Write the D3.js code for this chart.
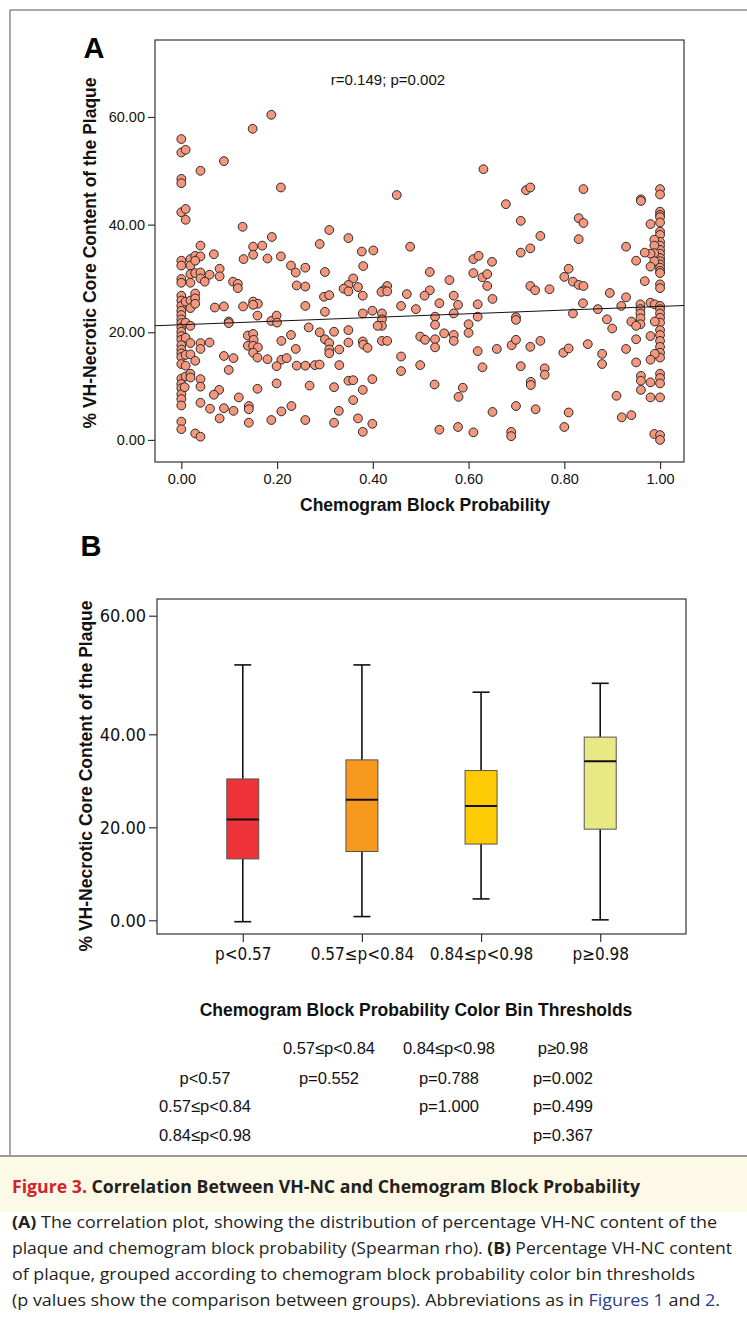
<!DOCTYPE html>
<html><head><meta charset="utf-8">
<script src="https://cdn.jsdelivr.net/npm/d3@7"></script>
<style>body{margin:0;background:#fff}svg{display:block}</style>
</head><body>
<script>
// ---------- DATA ----------
// Panel A: [chemogram block probability, % VH-NC]
const scatterPoints = [
[0.188,60.4],[0.149,57.8],[0.0,55.9],[0.0,53.4],[0.009,53.9],[0.089,51.8],[0.040,50.0],[0.0,48.5],[0.0,47.7],[0.208,46.9],[0.0,42.3],[0.009,42.9],[0.009,40.9],[0.128,39.6],[0.189,37.7],[0.040,36.1],[0.150,35.9],[0.169,36.1],[0.150,34.4],[0.068,34.5],[0.130,33.6],[0.180,33.7],[0.208,34.1],[0.229,32.4],[0.259,32.0],[0.239,31.1],[0.0,33.3],[0.0,32.4],[0.019,33.6],[0.019,32.4],[0.029,34.2],[0.040,34.1],[0.029,33.3],[0.019,30.8],[0.029,31.0],[0.040,31.1],[0.040,30.0],[0.059,30.7],[0.080,31.8],[0.080,30.4],[0.0,29.9],[0.0,29.2],[0.019,29.2],[0.049,29.4],[0.108,29.4],[0.118,29.0],[0.241,28.7],[0.259,28.5],[0.118,28.2],
[0,26.8],[0,25.9],[0,24.9],[0,24.0],[0,23.2],[0,22.4],[0,21.7],[0,20.9],[0,20.1],[0,19.3],[0,18.6],[0,17.6],[0,16.8],[0,16.1],[0,15.4],[0,14.1],[0,11.4],[0,10.4],[0,9.6],[0,8.5],[0,7.6],[0,6.4],[0,3.4],[0,2.0],
[0.009,25.7],[0.009,21.8],[0.009,19.0],[0.009,15.8],[0.009,13.8],[0.009,11.8],[0.007,9.8],
[0.019,25.9],[0.019,24.5],[0.029,27.2],[0.029,26.3],[0.029,25.3],[0.019,21.2],[0.019,18.0],[0.019,15.9],[0.029,14.7],[0.019,12.3],[0.019,11.6],
[0.040,18.0],[0.040,16.9],[0.059,18.1],[0.070,24.6],[0.089,24.8],[0.099,22.0],[0.099,21.7],[0.129,24.8],[0.150,25.7],[0.160,25.3],[0.150,25.1],[0.159,23.1],[0.188,22.1],[0.199,23.1],[0.200,21.8],
[0.139,19.4],[0.150,19.7],[0.151,18.6],[0.139,17.5],[0.150,17.5],[0.160,17.2],[0.150,16.2],[0.159,15.3],[0.180,15.0],[0.209,18.4],[0.229,19.5],[0.239,16.9],[0.209,14.9],[0.220,15.2],[0.199,13.7],[0.241,13.8],[0.259,13.8],[0.266,20.9],[0.259,24.9],
[0.089,15.6],[0.109,15.2],[0.099,13.0],[0.040,11.3],[0.040,9.9],[0.079,9.3],[0.068,8.4],[0.120,7.9],[0.159,9.5],[0.199,10.5],[0.040,6.9],[0.060,5.8],[0.089,5.9],[0.109,5.4],[0.141,6.3],[0.141,5.7],[0.230,6.3],[0.209,5.3],[0.080,4.0],[0.141,3.2],[0.188,3.7],[0.259,3.7],[0.029,1.2],[0.040,0.6],
[0.450,45.5],[0.309,39.0],[0.289,36.4],[0.349,37.5],[0.377,35.0],[0.401,35.2],[0.478,35.9],[0.300,31.2],[0.380,32.3],[0.359,30.0],[0.349,28.8],[0.339,28.1],[0.369,28.4],[0.430,28.6],[0.422,27.8],[0.519,31.2],[0.519,27.8],[0.560,29.7],
[0.349,27.6],[0.418,27.5],[0.430,27.6],[0.298,26.6],[0.309,26.9],[0.379,26.8],[0.471,27.1],[0.508,26.8],[0.569,26.8],[0.578,25.1],[0.539,25.4],[0.459,24.9],[0.490,24.3],[0.300,23.8],[0.379,23.5],[0.399,24.0],[0.419,23.5],[0.419,22.4],[0.419,21.2],[0.410,21.2],[0.530,22.9],[0.530,21.4],[0.569,23.5],
[0.289,20.0],[0.300,18.7],[0.309,18.0],[0.309,16.8],[0.309,16.1],[0.319,20.1],[0.330,16.8],[0.349,20.4],[0.349,18.1],[0.379,18.3],[0.380,17.7],[0.389,17.1],[0.419,18.4],[0.430,18.4],[0.499,19.2],[0.509,18.6],[0.530,18.7],[0.530,17.2],[0.549,19.8],[0.569,19.5],[0.569,18.4],
[0.279,13.9],[0.289,14.0],[0.330,13.9],[0.459,15.5],[0.459,12.8],[0.499,13.9],[0.268,10.1],[0.319,9.8],[0.349,11.0],[0.359,11.1],[0.399,11.3],[0.379,9.3],[0.359,7.4],[0.329,5.4],[0.529,10.3],[0.579,8.0],[0.319,3.2],[0.369,4.0],[0.379,1.5],[0.399,3.0],[0.539,1.9],[0.578,2.4],
[0.631,50.3],[0.720,46.4],[0.729,46.9],[0.840,46.6],[0.678,43.8],[0.709,40.7],[0.830,41.2],[0.840,40.3],[0.750,37.9],[0.830,37.3],[0.709,34.8],[0.729,35.6],[0.610,33.6],[0.621,34.2],[0.649,33.1],[0.610,31.0],[0.629,30.2],[0.639,30.8],[0.639,28.6],[0.809,31.8],[0.800,30.3],[0.818,29.4],[0.830,28.8],[0.840,28.6],[0.729,28.6],[0.739,27.8],[0.769,28.0],
[0.619,25.2],[0.650,26.2],[0.895,27.3],[0.839,25.4],[0.619,22.9],[0.600,21.5],[0.600,19.9],[0.699,22.8],[0.699,22.3],[0.818,23.5],[0.870,24.3],[0.889,22.4],[0.619,16.5],[0.659,16.9],[0.690,17.6],[0.699,18.6],[0.729,17.3],[0.750,18.4],[0.798,16.2],[0.809,17.0],[0.849,17.8],[0.879,16.0],[0.879,14.1],[0.629,13.5],[0.709,13.7],[0.759,13.3],[0.759,12.1],[0.730,10.8],[0.730,10.2],[0.588,9.7],[0.650,5.2],[0.699,6.3],[0.740,5.7],[0.809,5.1],[0.610,1.4],[0.689,1.5],[0.689,0.7],[0.800,2.4],
[1.0,46.6],[1.0,45.6],[0.960,44.7],[0.960,44.4],[1.0,42.4],[1.0,41.8],[1.0,41.4],[0.980,40.1],[1.0,40.4],[1.0,38.7],[1.0,38.1],[1.0,36.8],[1.0,36.1],[1.0,35.3],[1.0,34.6],[1.0,33.8],[1.0,33.2],[1.0,32.6],[1.0,32.0],[1.0,31.4],[1.0,31.0],[0.988,37.2],[0.988,36.1],[0.988,34.7],[0.980,34.6],[0.968,34.8],[0.929,35.9],[0.950,33.3],[0.988,33.2],[0.980,32.2],[0.968,29.5],[1.0,28.9],
[1.0,28.2],[0.929,26.5],[0.919,24.9],[0.959,25.2],[0.959,24.3],[0.959,23.5],[0.959,22.6],[0.959,21.5],[0.980,25.5],[0.989,25.2],[1.0,24.9],[1.0,24.3],[1.0,23.5],[1.0,22.7],[1.0,21.8],[1.0,20.4],[1.0,19.5],[1.0,18.4],[1.0,17.3],[1.0,16.2],[1.0,15.3],[0.989,22.0],[0.940,22.0],[0.950,21.2],[0.900,20.7],[0.950,18.7],[0.980,19.3],[0.989,16.0],[0.980,14.9],[0.950,14.4],[0.929,16.9],[0.960,11.9],[0.960,11.0],[0.960,9.3],[0.980,10.7],[1.0,12.3],[1.0,11.5],[1.0,10.5],[0.980,7.9],[1.0,7.9],[0.909,8.2],[0.920,4.2],[0.940,4.6],[0.988,1.1],[1.0,0.9],[1.0,0.0]
];
const fitIntercept = 21.4, fitSlope = 3.4;
const statText = "r=0.149; p=0.002";
const xTicksA = [0, 0.2, 0.4, 0.6, 0.8, 1.0];
const yTicksA = [0, 20, 40, 60];

// Panel B boxplots
const groups = ["p<0.57", "0.57≤p<0.84", "0.84≤p<0.98", "p≥0.98"];
const boxMin = [-0.3, 0.8, 4.6, 0.1];
const boxQ1 = [13.2, 14.8, 16.4, 19.6];
const boxMedian = [21.7, 25.9, 24.6, 34.2];
const boxQ3 = [30.4, 34.5, 32.2, 39.4];
const boxMax = [51.7, 51.7, 47.1, 48.6];
const boxColors = ["#ee3338", "#f7991f", "#ffcb05", "#e8e885"];
const yTicksB = [0, 20, 40, 60];

// p-value table
const tableCols = ["0.57≤p<0.84", "0.84≤p<0.98", "p≥0.98"];
const tableRows = ["p<0.57", "0.57≤p<0.84", "0.84≤p<0.98"];
const tableP = [["p=0.552", "p=0.788", "p=0.002"], ["", "p=1.000", "p=0.499"], ["", "", "p=0.367"]];

// ---------- DRAW ----------
const W = 747, H = 1321;
const svg = d3.select("body").append("svg").attr("width", W).attr("height", H);
const sans = "'Liberation Sans', Arial, Helvetica, sans-serif";
const narrow = "'Liberation Sans Narrow', 'Arial Narrow', 'DejaVu Sans Condensed', sans-serif";
const cap = "'Open Sans', 'Noto Sans', sans-serif";

// outer figure frame
svg.append("path").attr("d", `M10,${1155} V10 H${W}`).attr("fill", "none").attr("stroke", "#555").attr("stroke-width", 1);

// ===== Panel A =====
const A = {l: 155, r: 684, t: 40, b: 462};
const xA = d3.scaleLinear().domain([-0.055, 1.05]).range([A.l, A.r]);
const yA = d3.scaleLinear().domain([-4.1, 74.3]).range([A.b, A.t]);

svg.append("text").attr("x", 94).attr("y", 58).attr("text-anchor", "middle")
  .attr("font-family", sans).attr("font-weight", "bold").attr("font-size", 29).text("A");

const gA = svg.append("g");
gA.append("rect").attr("x", A.l).attr("y", A.t).attr("width", A.r - A.l).attr("height", A.b - A.t)
  .attr("fill", "none").attr("stroke", "#333").attr("stroke-width", 1.2);

const axA_y = gA.append("g").attr("transform", `translate(${A.l},0)`)
  .call(d3.axisLeft(yA).tickValues(yTicksA).tickFormat(d3.format(".2f")).tickSize(7).tickPadding(3));
axA_y.select(".domain").remove();
const axA_x = gA.append("g").attr("transform", `translate(0,${A.b})`)
  .call(d3.axisBottom(xA).tickValues(xTicksA).tickFormat(d3.format(".2f")).tickSize(7).tickPadding(5));
axA_x.select(".domain").remove();
[axA_x, axA_y].forEach(a => {
  a.selectAll("text").attr("font-family", sans).attr("font-size", 14.5).attr("fill", "#111");
  a.selectAll("line").attr("stroke", "#333").attr("stroke-width", 1.2);
});

gA.selectAll("circle").data(scatterPoints).join("circle")
  .attr("cx", d => xA(d[0])).attr("cy", d => yA(d[1])).attr("r", 4.4)
  .attr("fill", "#f4977d").attr("stroke", "#2a2a2a").attr("stroke-width", 1);

const xd = xA.domain();
gA.append("line").attr("x1", xA(xd[0])).attr("x2", xA(xd[1]))
  .attr("y1", yA(fitIntercept + fitSlope * xd[0])).attr("y2", yA(fitIntercept + fitSlope * xd[1]))
  .attr("stroke", "#111").attr("stroke-width", 1);

gA.append("text").attr("x", 388).attr("y", 85).attr("text-anchor", "middle")
  .attr("font-family", sans).attr("font-size", 15).attr("fill", "#111").text(statText);

svg.append("text").attr("transform", "translate(96,253) rotate(-90)").attr("text-anchor", "middle")
  .attr("font-family", sans).attr("font-weight", "bold").attr("font-size", 17.5).attr("fill", "#111")
  .text("% VH-Necrotic Core Content of the Plaque");
svg.append("text").attr("x", 425).attr("y", 511).attr("text-anchor", "middle")
  .attr("font-family", sans).attr("font-weight", "bold").attr("font-size", 17.5).attr("fill", "#111")
  .text("Chemogram Block Probability");

// ===== Panel B =====
const B = {l: 157, r: 686, t: 599, b: 934};
const xB = d3.scalePoint().domain(groups).range([B.l, B.r]).padding(0.72);
const yB = d3.scaleLinear().domain([0, 20, 40, 60]).range([920.3, 827.3, 734.3, 615.7]);

svg.append("text").attr("x", 91).attr("y", 556).attr("text-anchor", "middle")
  .attr("font-family", sans).attr("font-weight", "bold").attr("font-size", 29).text("B");

const gB = svg.append("g");
gB.append("rect").attr("x", B.l).attr("y", B.t).attr("width", B.r - B.l).attr("height", B.b - B.t)
  .attr("fill", "none").attr("stroke", "#333").attr("stroke-width", 1.2);

const axB_y = gB.append("g").attr("transform", `translate(${B.l},0)`)
  .call(d3.axisLeft(yB).tickValues(yTicksB).tickFormat(d3.format(".2f")).tickSize(8).tickPadding(3));
axB_y.select(".domain").remove();
const axB_x = gB.append("g").attr("transform", `translate(0,${B.b})`)
  .call(d3.axisBottom(xB).tickSize(8).tickPadding(6));
axB_x.select(".domain").remove();
[axB_x, axB_y].forEach(a => {
  a.selectAll("text").attr("font-family", narrow).attr("font-size", 17).attr("fill", "#111");
  a.selectAll("line").attr("stroke", "#333").attr("stroke-width", 1.2);
});
axB_y.selectAll("text").attr("font-size", 18);

const boxW = 32, capW = 17;
groups.forEach((g, i) => {
  const cx = xB(g);
  const gg = gB.append("g");
  gg.append("line").attr("x1", cx).attr("x2", cx).attr("y1", yB(boxMax[i])).attr("y2", yB(boxQ3[i])).attr("stroke", "#111").attr("stroke-width", 1.6);
  gg.append("line").attr("x1", cx).attr("x2", cx).attr("y1", yB(boxQ1[i])).attr("y2", yB(boxMin[i])).attr("stroke", "#111").attr("stroke-width", 1.6);
  gg.append("line").attr("x1", cx - capW / 2).attr("x2", cx + capW / 2).attr("y1", yB(boxMax[i])).attr("y2", yB(boxMax[i])).attr("stroke", "#111").attr("stroke-width", 1.6);
  gg.append("line").attr("x1", cx - capW / 2).attr("x2", cx + capW / 2).attr("y1", yB(boxMin[i])).attr("y2", yB(boxMin[i])).attr("stroke", "#111").attr("stroke-width", 1.6);
  gg.append("rect").attr("x", cx - boxW / 2).attr("width", boxW).attr("y", yB(boxQ3[i])).attr("height", yB(boxQ1[i]) - yB(boxQ3[i]))
    .attr("fill", boxColors[i]).attr("stroke", "#555").attr("stroke-width", 1);
  gg.append("line").attr("x1", cx - boxW / 2).attr("x2", cx + boxW / 2).attr("y1", yB(boxMedian[i])).attr("y2", yB(boxMedian[i])).attr("stroke", "#111").attr("stroke-width", 2);
});

svg.append("text").attr("transform", "translate(92,776) rotate(-90)").attr("text-anchor", "middle")
  .attr("font-family", sans).attr("font-weight", "bold").attr("font-size", 17.5).attr("fill", "#111")
  .text("% VH-Necrotic Core Content of the Plaque");

// table
svg.append("text").attr("x", 416).attr("y", 1016).attr("text-anchor", "middle")
  .attr("font-family", sans).attr("font-weight", "bold").attr("font-size", 17.5).attr("fill", "#111")
  .text("Chemogram Block Probability Color Bin Thresholds");
const colX = [329, 449, 563], rowLabelX = 205;
const headY = 1054, rowY = [1084, 1112, 1141];
const tfont = (s) => s.attr("font-family", sans).attr("font-size", 16.5).attr("fill", "#111").attr("text-anchor", "middle");
tableCols.forEach((c, j) => tfont(svg.append("text").attr("x", colX[j]).attr("y", headY)).text(c));
tableRows.forEach((r, i) => {
  tfont(svg.append("text").attr("x", rowLabelX).attr("y", rowY[i])).text(r);
  tableP[i].forEach((p, j) => { if (p) tfont(svg.append("text").attr("x", colX[j]).attr("y", rowY[i])).text(p); });
});

// ===== Caption =====
svg.append("rect").attr("x", 0).attr("y", 1156).attr("width", W).attr("height", 56).attr("fill", "#fcf9e6");
svg.append("line").attr("x1", 0).attr("x2", W).attr("y1", 1156).attr("y2", 1156).attr("stroke", "#999").attr("stroke-width", 2);

const title = svg.append("text").attr("x", 12).attr("y", 1193).attr("font-family", cap)
  .attr("font-weight", "bold").attr("font-size", 17).attr("textLength", 628).attr("lengthAdjust", "spacingAndGlyphs");
title.append("tspan").attr("fill", "#d1232a").text("Figure 3. ");
title.append("tspan").attr("fill", "#231f20").text("Correlation Between VH-NC and Chemogram Block Probability");

const bodyLines = [
  [["b", "(A)"], ["n", " The correlation plot, showing the distribution of percentage VH-NC content of the"]],
  [["n", "plaque and chemogram block probability (Spearman rho). "], ["b", "(B)"], ["n", " Percentage VH-NC content"]],
  [["n", "of plaque, grouped according to chemogram block probability color bin thresholds"]],
  [["n", "(p values show the comparison between groups). Abbreviations as in "], ["l", "Figures 1"], ["n", " and "], ["l", "2"], ["n", "."]]
];
const bodyLen = [705, 720, 683, 708];
const bodyY = [1228, 1254, 1280, 1306];
bodyLines.forEach((ln, i) => {
  const t = svg.append("text").attr("x", 12).attr("y", bodyY[i]).attr("font-family", cap).attr("font-size", 16)
    .attr("fill", "#231f20").attr("textLength", bodyLen[i]).attr("lengthAdjust", "spacingAndGlyphs");
  ln.forEach(([k, s]) => {
    const ts = t.append("tspan").text(s);
    if (k === "b") ts.attr("font-weight", "bold");
    if (k === "l") ts.attr("fill", "#283c8f");
  });
});
</script>
</body></html>
